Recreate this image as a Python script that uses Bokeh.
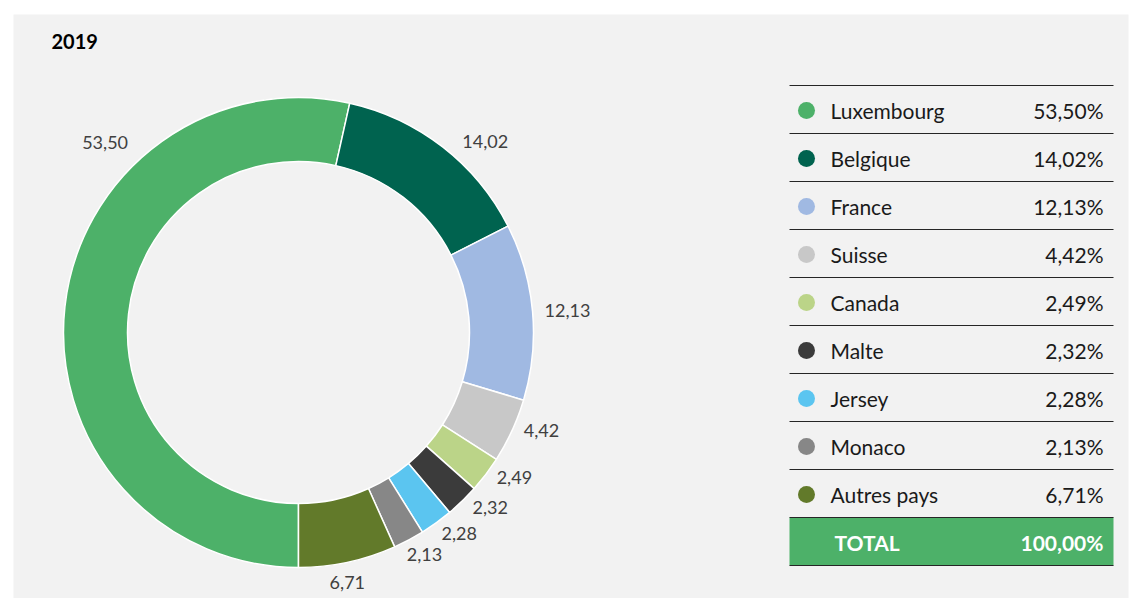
import numpy as np
from bokeh.plotting import figure
from bokeh.models import Range1d, ColumnDataSource
from bokeh.core.properties import value
from bokeh.embed import file_html
from bokeh.resources import INLINE

# ---------------- data ----------------
title = "2019"
countries = ["Luxembourg", "Belgique", "France", "Suisse", "Canada",
             "Malte", "Jersey", "Monaco", "Autres pays"]
shares = [53.50, 14.02, 12.13, 4.42, 2.49, 2.32, 2.28, 2.13, 6.71]
total_label = "TOTAL"

# ---------------- styles / layout ----------------
colors = ["#4DB169", "#00634F", "#A0B9E2", "#C8C8C8", "#BBD488",
          "#3B3B3B", "#5BC5F0", "#878787", "#627A2A"]
FONT = "Lato"
W, H = 1130, 598
PAGE = 0


def px(X):
    return X - PAGE


def py(Y):
    return H + PAGE - Y


# pixel nudges of the slice labels relative to the mid-angle anchor (Excel best fit)
label_nudge = [(67, -161), (26, 16), (8, 1), (5, -11), (7, -13),
               (9, -13), (7, -11), (3, -9), (-6, -6)]

p = figure(width=W, height=H, x_range=Range1d(0, W), y_range=Range1d(0, H),
           output_backend="svg", toolbar_location=None, min_border=0,
           x_axis_type=None, y_axis_type=None)
p.grid.visible = False
p.outline_line_color = None
p.background_fill_color = "white"
p.border_fill_color = "white"

# panel background
p.quad(left=px(13), right=px(1128), top=py(14), bottom=0,
       fill_color="#F2F2F2", line_color=None)

# title
p.text(x=[px(51)], y=[py(41)], text=[title], text_font=value(FONT),
       text_font_size="20px", text_font_style="bold", text_color="#000000",
       text_align="left", text_baseline="middle")

# ---------------- donut ----------------
cx, cy = px(298), py(332)
r_in, r_out = 171, 235
vals = np.array(shares)
cum = np.concatenate([[0], np.cumsum(vals)]) / vals.sum()
start = 270 - cum[:-1] * 360
end = 270 - cum[1:] * 360
src = ColumnDataSource(dict(start=start, end=end, color=colors))
p.annular_wedge(x=cx, y=cy, inner_radius=r_in, outer_radius=r_out,
                inner_radius_units="screen", outer_radius_units="screen",
                start_angle="start", end_angle="end", start_angle_units="deg",
                end_angle_units="deg", direction="clock", fill_color="color",
                line_color="white", line_width=1.5, source=src)

mid = np.deg2rad((start + end) / 2)
r_lab = 262
lx = cx + r_lab * np.cos(mid) + np.array([n[0] for n in label_nudge])
ly = cy + r_lab * np.sin(mid) - np.array([n[1] for n in label_nudge])
labels = [f"{v:.2f}".replace(".", ",") for v in shares]
p.text(x=lx, y=ly, text=labels, text_font=value(FONT), text_font_size="18px",
       text_color="#404040", text_align="center", text_baseline="middle")

# ---------------- legend table ----------------
row_h = 48
top_Y = 85
left_X, right_X = 789, 1113
n = len(countries)
row_centers = [py(top_Y + row_h * i + row_h / 2 + 1) for i in range(n + 1)]

# total box
p.quad(left=px(left_X), right=px(right_X), top=py(top_Y + row_h * n),
       bottom=py(top_Y + row_h * (n + 1)), fill_color=colors[0], line_color=None)

# rule lines
ys = [py(top_Y + row_h * k) for k in range(n + 2)]
p.segment(x0=[px(left_X)] * len(ys), x1=[px(right_X)] * len(ys), y0=ys, y1=ys,
          line_color="#262626", line_width=1)

p.scatter(x=[px(806)] * n, y=row_centers[:n], size=17, fill_color=colors,
          line_color=None, marker="circle")
p.text(x=[px(830)] * n, y=row_centers[:n], text=countries, text_font=value(FONT),
       text_font_size="21px", text_color="#1A1A1A", text_align="left",
       text_baseline="middle")
pct = [f"{v:.2f}".replace(".", ",") + "%" for v in shares]
p.text(x=[px(1103)] * n, y=row_centers[:n], text=pct, text_font=value(FONT),
       text_font_size="21px", text_color="#1A1A1A", text_align="right",
       text_baseline="middle")

total = f"{vals.sum():.2f}".replace(".", ",") + "%"
p.text(x=[px(834)], y=[row_centers[n]], text=[total_label], text_font=value(FONT),
       text_font_size="21px", text_font_style="bold", text_color="white",
       text_align="left", text_baseline="middle")
p.text(x=[px(1103)], y=[row_centers[n]], text=[total], text_font=value(FONT),
       text_font_size="21px", text_font_style="bold", text_color="white",
       text_align="right", text_baseline="middle")

open("out.html", "w").write(file_html(p, INLINE))
